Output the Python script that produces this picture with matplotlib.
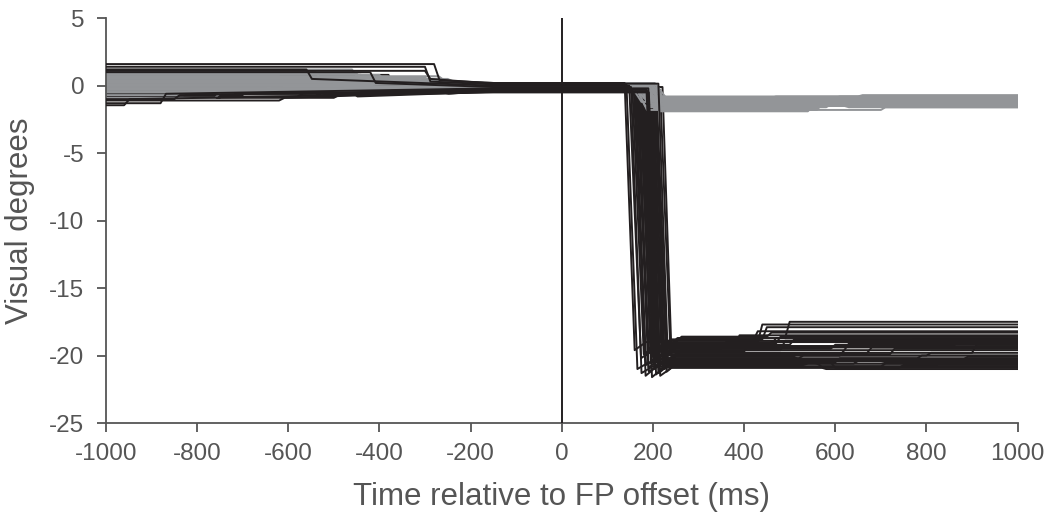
import matplotlib
matplotlib.use('Agg')
import matplotlib.pyplot as plt

plt.rcParams['font.family'] = ['Liberation Sans', 'DejaVu Sans']
plt.rcParams['axes.unicode_minus'] = False

# black traces: saccade down to about -20 deg
black_pre = [1.6, 1.4, 1.2, 1.0, 0.9, 0.8, 0.7, 0.6, 0.5, 0.4, 0.3, 0.2, 0.1, 0.0, -0.1, -0.2, -0.3, -0.4, -0.5, -0.6,
             -0.7, -0.8, -0.9, -1.0, -1.1, -1.3, -1.45, 0.5, 0.2, -0.2, -0.5, 0.8, 0.3, -0.6, 0.0, 0.6, -0.3, 1.1, -0.9, 0.4]
black_jump = [-280, -300, -560, -420, -650, -380, -700, -320, -500, -450, -350, -600, -400, -300, -520, -480, -250, -330, -460, -540,
              -700, -580, -750, -850, -620, -880, -960, -270, -390, -310, -260, -440, -360, -490, -290, -410, -340, -300, -500, -280]
black_conv = [0.4, 0.3, 0.5, 0.2, 0.3, -0.1, 0.4, -0.3, 0.2, -0.6, 0.1, -0.5, 0.3, -0.4, -0.6, 0.2, -0.3, -0.5, -0.8, -0.7,
              -0.2, -0.6, -0.5, -0.7, -0.9, -0.6, -1.0, 0.3, -0.4, -0.3, -0.6, 0.4, 0.1, -0.6, -0.3, 0.3, -0.5, 0.5, -0.7, 0.1]
black_mid = [0.2, 0.1, 0.0, -0.1, -0.2, -0.3, 0.1, -0.2, 0.0, -0.4, -0.1, -0.3, 0.2, -0.2, -0.35, 0.0, -0.15, -0.25, -0.45, -0.3,
             0.1, -0.2, -0.1, -0.3, -0.4, -0.2, -0.5, 0.0, -0.25, -0.15, -0.35, 0.1, -0.05, -0.3, -0.2, 0.05, -0.4, 0.15, -0.3, -0.1]
black_onset = [138, 142, 148, 152, 155, 158, 160, 162, 164, 166, 168, 170, 171, 172, 174, 175, 176, 178, 180, 181,
               182, 184, 185, 186, 188, 190, 191, 192, 194, 195, 196, 198, 200, 202, 204, 206, 208, 212, 216, 221]
black_dur = [22, 24, 26, 23, 25, 27, 24, 22, 26, 25, 23, 28, 24, 26, 22, 25, 27, 23, 24, 26,
             25, 22, 27, 24, 26, 23, 25, 28, 22, 24, 26, 23, 25, 27, 22, 24, 23, 21, 22, 20]
black_land = [-19.6, -21.0, -20.2, -21.3, -19.9, -20.7, -21.5, -20.0, -20.9, -19.5, -21.2, -20.4, -19.8, -21.6, -20.6, -20.1, -21.0, -19.7, -20.8, -21.4,
              -20.3, -19.9, -21.1, -20.5, -19.6, -21.3, -20.7, -20.0, -21.5, -19.8, -20.9, -20.2, -21.0, -19.5, -20.6, -21.2, -19.9, -20.4, -19.4, -20.1]
black_settle = [-19.0, -20.5, -19.6, -20.8, -19.3, -20.2, -20.8, -19.4, -20.3, -18.9, -20.6, -19.8, -19.2, -20.9, -20.0, -19.5, -20.4, -19.1, -20.2, -20.7,
                -19.7, -19.3, -20.5, -19.9, -18.8, -20.6, -20.1, -19.4, -20.9, -19.2, -20.3, -19.6, -20.4, -18.7, -20.0, -20.5, -19.3, -19.8, -18.6, -19.5]
black_step = [430, 600, 480, 700, 380, 520, 820, 450, 650, 420, 560, 900, 500, 740, 610, 350, 680, 470, 780, 530,
              400, 860, 590, 720, 440, 640, 510, 760, 570, 460, 880, 620, 700, 490, 800, 550, 410, 670, 450, 590]
black_end = [-17.7, -20.2, -18.9, -20.6, -18.5, -20.0, -20.5, -19.0, -20.4, -18.2, -20.8, -19.2, -18.8, -20.7, -19.6, -19.0, -20.3, -18.6, -20.0, -20.6,
             -19.3, -18.9, -20.9, -19.5, -17.9, -20.4, -20.3, -18.8, -21.0, -18.7, -20.1, -19.1, -20.5, -17.5, -19.8, -20.6, -18.9, -19.4, -18.3, -19.2]

# grey traces: stay near fixation, small drift to about -1 deg
grey_pre = [1.0, 0.8, 0.7, 0.6, 0.5, 0.4, 0.3, 0.2, 0.1, 0.0, -0.1, -0.2, -0.3, -0.5, -0.7, 0.9, 0.6, 0.4, 0.2, 0.0,
            -0.2, -0.4, 0.5, 0.3, 0.1, -0.1, 0.7, 1.2, -0.9, 0.35]
grey_jump = [-540, -400, -620, -300, -480, -700, -350, -260, -560, -420, -300, -650, -380, -720, -830, -450, -320, -500, -280, -600,
             -360, -440, -250, -520, -310, -680, -270, -460, -760, -340]
grey_conv = [0.5, 0.4, 0.3, 0.35, 0.2, 0.25, 0.3, 0.1, 0.0, 0.1, 0.0, -0.1, -0.1, -0.3, -0.4, 0.5, 0.4, 0.2, 0.0, 0.1,
             -0.1, -0.2, 0.3, 0.2, 0.15, -0.1, 0.4, 0.6, -0.5, 0.25]
grey_mid = [0.1, 0.0, 0.15, 0.05, -0.05, 0.1, 0.2, 0.0, -0.1, 0.05, 0.1, -0.05, 0.0, -0.15, 0.05, 0.2, 0.1, 0.0, -0.1, 0.15,
            0.05, -0.05, 0.1, 0.0, 0.2, -0.1, 0.05, 0.15, 0.0, 0.1]
grey_onset = [150, 155, 158, 160, 162, 165, 168, 170, 172, 174, 176, 178, 180, 182, 184, 186, 188, 190, 192, 194,
              196, 198, 200, 202, 204, 170, 185, 195, 178, 205]
grey_land = [-1.2, -0.9, -1.5, -1.1, -1.8, -1.0, -1.3, -1.6, -0.8, -1.4, -1.2, -1.7, -1.0, -1.3, -1.5, -0.9, -1.1, -1.9, -1.2, -1.4,
             -1.0, -1.6, -1.3, -1.1, -0.9, -1.5, -1.2, -1.8, -1.0, -1.4]
grey_step = [440, 600, 520, 700, 560, 480, 800, 450, 650, 900, 380, 560, 720, 500, 620, 460, 840, 540, 680, 420,
             760, 580, 470, 640, 880, 530, 610, 700, 490, 750]
grey_end = [-1.0, -0.8, -1.3, -1.1, -1.4, -0.9, -1.2, -1.5, -0.7, -1.3, -1.1, -1.4, -0.9, -1.2, -1.6, -0.8, -1.0, -1.5, -1.1, -1.3,
            -0.9, -1.4, -1.2, -1.0, -0.8, -1.3, -1.1, -1.6, -0.9, -1.2]

BLACK = '#231f20'
GREY = '#939598'
AXIS = '#555555'

fig = plt.figure(figsize=(10.48, 5.2), dpi=100)
ax = fig.add_axes([0.101, 0.1865, 0.87, 0.7785])

for i in range(len(black_onset)):
    land_t = black_onset[i] + black_dur[i]
    xs = [-1000, black_jump[i], black_jump[i] + 12, -150, black_onset[i], land_t, land_t + 25,
          black_step[i], black_step[i] + 10, 1000]
    ys = [black_pre[i], black_pre[i], black_conv[i], black_mid[i], black_mid[i], black_land[i], black_settle[i],
          black_settle[i], black_end[i], black_end[i]]
    # outlying trials sit on top of the grey bundle, the rest underneath
    z = 3 if abs(black_pre[i]) >= 1.0 else 1
    ax.plot(xs, ys, color=BLACK, lw=1.4, zorder=z)

for i in range(len(grey_onset)):
    land_t = grey_onset[i] + 25
    xs = [-1000, grey_jump[i], grey_jump[i] + 12, -150, grey_onset[i], land_t,
          grey_step[i], grey_step[i] + 10, 1000]
    ys = [grey_pre[i], grey_pre[i], grey_conv[i], grey_mid[i], grey_mid[i], grey_land[i],
          grey_land[i], grey_end[i], grey_end[i]]
    ax.plot(xs, ys, color=GREY, lw=1.4, zorder=2)

ax.axvline(0, color=BLACK, lw=1.4, zorder=4)

ax.set_xlim(-1000, 1000)
ax.set_ylim(-25, 5)
ax.set_xticks(range(-1000, 1001, 200))
ax.set_yticks(range(-25, 6, 5))
for s in ['top', 'right']:
    ax.spines[s].set_visible(False)
for s in ['left', 'bottom']:
    ax.spines[s].set_color(AXIS)
    ax.spines[s].set_linewidth(1.3)
ax.tick_params(direction='out', length=6.5, width=1.3, color=AXIS, labelsize=17.5,
               labelcolor=AXIS)
ax.tick_params(axis='y', pad=9)
ax.tick_params(axis='x', pad=8)
ax.set_xlabel('Time relative to FP offset (ms)', fontsize=22.5, color=AXIS, labelpad=12)
ax.set_ylabel('Visual degrees', fontsize=22.5, color=AXIS, labelpad=10)

fig.savefig('out.png', dpi=100)
